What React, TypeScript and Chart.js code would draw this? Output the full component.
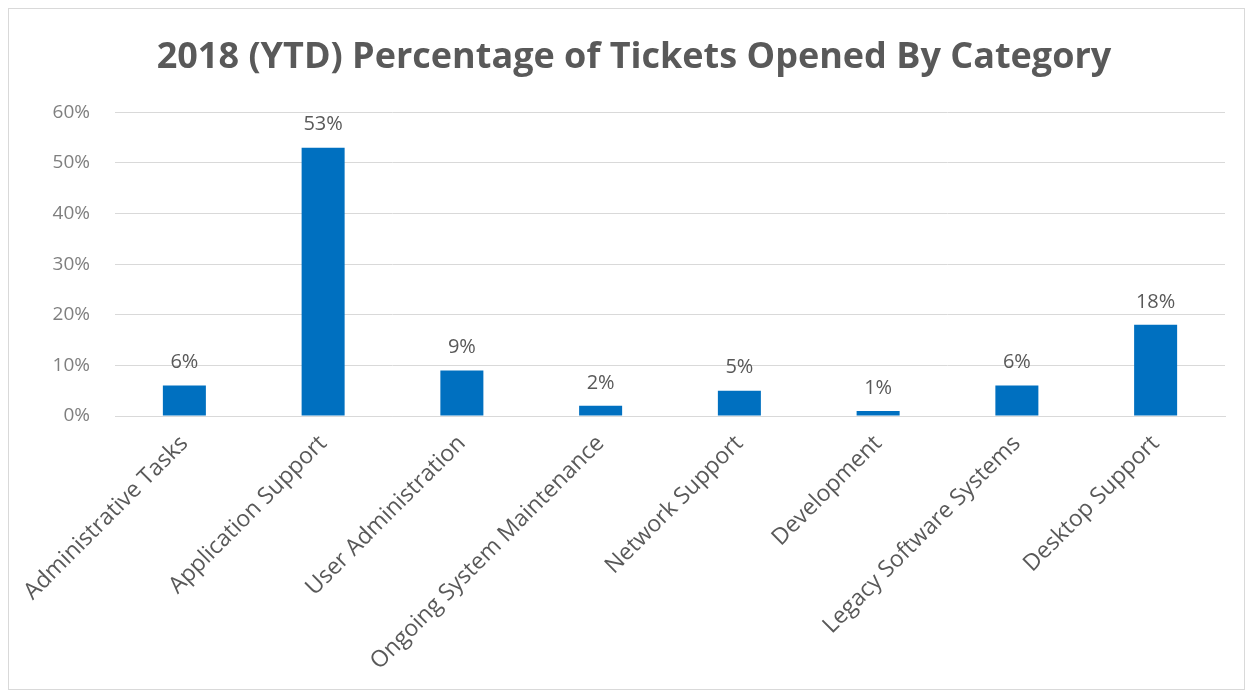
import React, { useEffect, useRef } from "react";
import { Chart, registerables } from "chart.js";

Chart.register(...registerables);

const categories = [
  "Administrative Tasks",
  "Application Support",
  "User Administration",
  "Ongoing System Maintenance",
  "Network Support",
  "Development",
  "Legacy Software Systems",
  "Desktop Support",
];
const percentages = [6, 53, 9, 2, 5, 1, 6, 18];
const yTicks = [0, 10, 20, 30, 40, 50, 60];
const titleText = "2018 (YTD) Percentage of Tickets Opened By Category";

const FONT = "'Open Sans', 'Noto Sans', sans-serif";

const dataLabelPlugin = {
  id: "dataLabels",
  afterDatasetsDraw(chart: any) {
    const ctx = chart.ctx;
    const meta = chart.getDatasetMeta(0);
    ctx.save();
    ctx.fillStyle = "#595959";
    ctx.font = `20px ${FONT}`;
    ctx.textAlign = "center";
    ctx.textBaseline = "middle";
    meta.data.forEach((bar: any, i: number) => {
      const v = chart.data.datasets[0].data[i];
      ctx.fillText(`${v}%`, bar.x, bar.y - 23);
    });
    ctx.restore();
  },
};

export default function App() {
  const ref = useRef<HTMLCanvasElement | null>(null);
  useEffect(() => {
    if (!ref.current) return;
    const chart = new Chart(ref.current, {
      type: "bar",
      data: {
        labels: categories,
        datasets: [
          {
            data: percentages,
            backgroundColor: "#0070C0",
            barPercentage: 0.62,
            categoryPercentage: 0.5,
          },
        ],
      },
      options: {
        animation: false,
        responsive: false,
        layout: { padding: { left: 34, right: 19, top: 0, bottom: 0 } },
        plugins: {
          legend: { display: false },
          tooltip: { enabled: false },
          title: {
            display: true,
            text: titleText,
            color: "#595959",
            font: { family: FONT, size: 36, weight: "bold", lineHeight: 1.2 },
            padding: { top: 27, bottom: 33 },
          },
        },
        scales: {
          x: {
            grid: { display: false },
            border: { display: true, color: "#d9d9d9" },
            ticks: {
              color: "#595959",
              font: { family: FONT, size: 23 },
              minRotation: 45,
              maxRotation: 45,
              autoSkip: false,
              padding: 6,
            },
            afterFit(scale: any) {
              scale.height = 273;
            },
          },
          y: {
            min: 0,
            max: 60,
            afterBuildTicks(scale: any) {
              scale.ticks = yTicks.map((v) => ({ value: v }));
            },
            grid: { color: "#d9d9d9", drawTicks: false },
            border: { display: false },
            ticks: {
              color: "#7f7f7f",
              font: { family: FONT, size: 19 },
              padding: 25,
              callback: (v: any) => `${v}%`,
            },
            afterFit(scale: any) {
              scale.width = 72;
            },
          },
        },
      },
      plugins: [dataLabelPlugin],
    });
    return () => chart.destroy();
  }, []);
  return (
    <div
      style={{
        width: 1237,
        height: 682,
        border: "1px solid #d9d9d9",
        boxSizing: "border-box",
        background: "#fff",
      }}
    >
      <canvas ref={ref} width={1235} height={680} style={{ display: "block" }} />
    </div>
  );
}
